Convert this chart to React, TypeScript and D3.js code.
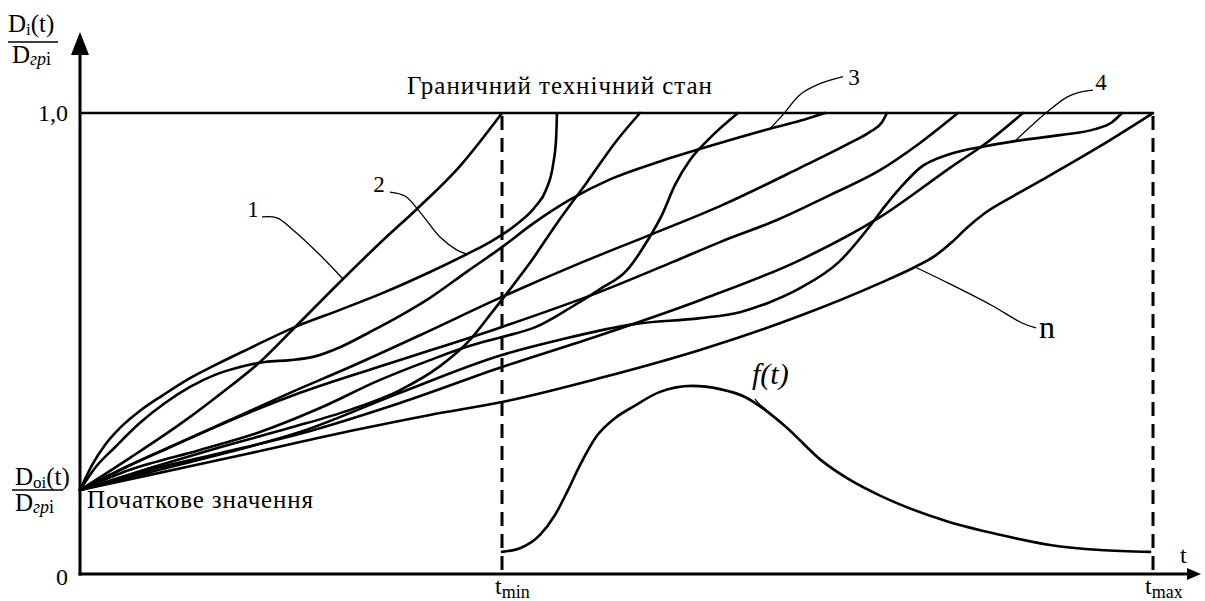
import React from "react";
import * as d3 from "d3";

const WIDTH = 1205;
const HEIGHT = 601;

// Relative operating time t (arbitrary units) and the ratio D_i(t)/D_гр i in percent
const T_END = 1075;
const T_MIN = 422;
const T_MAX = 1073;
const D_LIMIT = 100;

const curve1T = [0, 50, 100, 140, 180, 213, 263, 300, 338, 380, 422];
const curve1D = [18.2, 25.2, 32.5, 39.0, 46.0, 53.1, 64.0, 71.8, 79.4, 88.5, 100];

const curve2T = [0, 12, 25, 40, 60, 83, 110, 133, 170, 213, 260, 300, 350, 387, 410, 437, 455, 466, 473, 476, 477];
const curve2D = [18.2, 23.6, 28.0, 31.7, 35.4, 38.8, 42.5, 45.1, 49.0, 53.4, 57.3, 60.7, 65.5, 69.4, 72.0, 75.9, 79.6, 83.3, 88.7, 94.1, 100];

const curve3T = [0, 15, 35, 60, 85, 110, 135, 160, 185, 210, 233, 260, 290, 320, 350, 387, 422, 453, 490, 530, 580, 640, 690, 720, 745];
const curve3D = [18.2, 23.0, 27.5, 32.8, 37.1, 40.6, 43.2, 44.9, 46.0, 46.4, 47.1, 49.2, 52.5, 56.0, 59.9, 65.6, 70.9, 76.0, 81.2, 85.6, 89.5, 93.5, 96.6, 98.3, 100];

const curve4T = [0, 70, 150, 220, 320, 422, 480, 554, 620, 660, 688, 720, 759, 790, 805, 820, 840, 870, 905, 935, 980, 1015, 1032, 1042];
const curve4D = [18.2, 22.1, 26.5, 30.8, 39.3, 47.5, 50.8, 54.2, 55.5, 56.8, 58.8, 62.0, 67.7, 75.5, 79.8, 83.7, 88.1, 91.1, 92.8, 93.9, 95.2, 96.5, 98.0, 100];

const curve5T = [0, 70, 140, 210, 270, 320, 360, 390, 410, 428, 450, 477, 507, 537, 560];
const curve5D = [18.2, 23.0, 27.5, 31.7, 35.6, 39.9, 45.1, 50.8, 56.2, 61.2, 67.5, 76.1, 85.0, 94.1, 100];

const curve6T = [0, 50, 120, 180, 240, 300, 350, 390, 422, 456, 490, 520, 547, 568, 582, 595, 610, 630, 658];
const curve6D = [18.2, 22.6, 26.9, 30.8, 36.0, 42.1, 46.4, 49.5, 51.4, 53.6, 57.7, 61.8, 65.9, 72.5, 77.9, 84.4, 89.8, 94.6, 100];

const curve7T = [0, 40, 90, 150, 210, 270, 340, 422, 503, 567, 640, 720, 770, 790, 802, 807];
const curve7D = [18.2, 22.6, 27.5, 33.4, 39.3, 44.9, 51.8, 60.1, 67.7, 73.3, 79.8, 88.1, 93.5, 95.9, 98.0, 100];

const curve8T = [0, 50, 110, 170, 220, 320, 422, 520, 593, 640, 697, 750, 800, 840, 878];
const curve8D = [18.2, 23.6, 29.5, 35.1, 39.3, 46.4, 53.6, 61.2, 67.7, 72.0, 76.8, 82.2, 87.6, 93.5, 100];

const curve9T = [0, 70, 140, 220, 320, 422, 520, 620, 720, 800, 870, 910, 943];
const curve9D = [18.2, 22.6, 26.2, 30.4, 37.1, 44.9, 51.8, 59.4, 68.1, 77.4, 88.1, 94.1, 100];

const curveNT = [0, 70, 170, 270, 350, 422, 520, 620, 720, 800, 835, 855, 872, 887, 905, 935, 967, 1020, 1073];
const curveND = [18.2, 21.5, 26.2, 31.0, 34.5, 37.3, 42.5, 48.6, 56.0, 63.1, 66.6, 69.0, 72.0, 75.1, 78.3, 82.2, 86.1, 92.8, 100];

// Distribution density of the time to reach the limit state
const densityT = [422, 440, 460, 475, 488, 500, 516, 535, 554, 580, 612, 640, 665, 685, 706, 741, 770, 799, 866, 920, 970, 1020, 1070];
const densityF = [4.8, 5.6, 8.5, 12.8, 18.2, 23.6, 29.7, 33.8, 36.4, 39.5, 40.8, 40.1, 38.4, 35.6, 31.9, 24.7, 20.4, 17.1, 11.5, 8.5, 6.3, 5.2, 4.8];

const FONT = "'Liberation Serif', 'Times New Roman', 'DejaVu Serif', serif";

type Pt = [number, number];
const zip = (ts: number[], ds: number[]): Pt[] => ts.map((t, i) => [t, ds[i]] as Pt);

function valueAt(ts: number[], ds: number[], t: number) {
  const i = Math.max(1, Math.min(ts.length - 1, d3.bisectLeft(ts, t)));
  const k = (t - ts[i - 1]) / (ts[i] - ts[i - 1]);
  return ds[i - 1] + k * (ds[i] - ds[i - 1]);
}

export default function App() {
  const x = d3.scaleLinear().domain([0, T_END]).range([80, 1155]);
  const y = d3.scaleLinear().domain([0, D_LIMIT]).range([574, 113]);

  const line = d3
    .line<Pt>()
    .x((d) => x(d[0]))
    .y((d) => y(d[1]))
    .curve(d3.curveMonotoneX);

  const leaderLine = d3.line<Pt>().curve(d3.curveCatmullRom.alpha(0.5));

  const series: [number[], number[]][] = [
    [curve1T, curve1D],
    [curve2T, curve2D],
    [curve3T, curve3D],
    [curve4T, curve4D],
    [curve5T, curve5D],
    [curve6T, curve6D],
    [curve7T, curve7D],
    [curve8T, curve8D],
    [curve9T, curve9D],
    [curveNT, curveND],
  ];

  const callouts = [
    { text: "1", ts: curve1T, ds: curve1D, t: 263, leader: [[-81, -62], [-66, -61], [-50, -49], [-23, -24], [0, 0]], dx: -90, dy: -62, anchor: "middle", size: 23, italic: false },
    { text: "2", ts: curve2T, ds: curve2D, t: 387, leader: [[-77, -62], [-62, -58], [-47, -42], [-27, -17], [-10, -4], [0, 0]], dx: -88, dy: -62, anchor: "middle", size: 23, italic: false },
    { text: "3", ts: curve3T, ds: curve3D, t: 690, leader: [[73, -52], [50, -45], [30, -34], [13, -14], [0, 0]], dx: 84, dy: -44, anchor: "middle", size: 23, italic: false },
    { text: "4", ts: curve4T, ds: curve4D, t: 935, leader: [[78, -51], [65, -49], [52, -44], [32, -29], [0, 0]], dx: 86, dy: -51, anchor: "middle", size: 23, italic: false },
    { text: "n", ts: curveNT, ds: curveND, t: 835, leader: [[0, 0], [31, 15], [76, 38], [107, 56], [121, 61]], dx: 124, dy: 71, anchor: "start", size: 32, italic: false },
    { text: "f(t)", ts: densityT, ds: densityF, t: 691, leader: [[0, 0], [-6, -6], [-12, -11], [-16, -16]], dx: -19, dy: -31, anchor: "start", size: 30, italic: true },
  ];

  const x0 = x(0);
  const y0 = y(0);
  const yTop = y(D_LIMIT);

  return (
    <svg
      width={WIDTH}
      height={HEIGHT}
      viewBox={`0 0 ${WIDTH} ${HEIGHT}`}
      style={{ position: "absolute", left: 0, top: 0, background: "#fff" }}
      fontFamily={FONT}
    >
      <rect width={WIDTH} height={HEIGHT} fill="#fff" />

      {/* limit level D/Dгр = 1,0 */}
      <line x1={x0} x2={x(T_MAX)} y1={yTop} y2={yTop} stroke="#000" strokeWidth={2.6} />

      {/* t_min and t_max markers */}
      {[T_MIN, T_MAX].map((t) => (
        <line key={t} x1={x(t)} x2={x(t)} y1={yTop + 3} y2={y0} stroke="#000" strokeWidth={3} strokeDasharray="14 8" />
      ))}

      {/* degradation trajectories */}
      {series.map(([ts, ds], i) => (
        <path key={i} d={line(zip(ts, ds)) ?? ""} fill="none" stroke="#000" strokeWidth={2.6} strokeLinejoin="round" strokeLinecap="round" />
      ))}

      {/* density f(t) */}
      <path d={line(zip(densityT, densityF)) ?? ""} fill="none" stroke="#000" strokeWidth={2.6} strokeLinecap="round" />

      {/* axes */}
      <line x1={x0} x2={x0} y1={y0 + 1.5} y2={50} stroke="#000" strokeWidth={3} />
      <polygon points={`${x0},32 ${x0 - 9},55 ${x0 + 9},55`} fill="#000" />
      <line x1={x0 - 1.5} x2={1190} y1={y0} y2={y0} stroke="#000" strokeWidth={3} />
      <polygon points={`1201,${y0} 1187,${y0 - 6} 1187,${y0 + 6}`} fill="#000" />

      {/* callouts */}
      {callouts.map((c) => {
        const ax = x(c.t);
        const ay = y(valueAt(c.ts, c.ds, c.t));
        const pts = c.leader.map(([dx, dy]) => [ax + dx, ay + dy] as Pt);
        return (
          <g key={c.text}>
            <path d={leaderLine(pts) ?? ""} fill="none" stroke="#000" strokeWidth={1.3} />
            <text x={ax + c.dx} y={ay + c.dy} fontSize={c.size} textAnchor={c.anchor} fontStyle={c.italic ? "italic" : "normal"}>
              {c.text}
            </text>
          </g>
        );
      })}

      {/* axis labels */}
      <text x={68} y={yTop + 8} fontSize={24} textAnchor="end">1,0</text>
      <text x={68} y={y0 + 11} fontSize={24} textAnchor="end">0</text>
      <text x={1180} y={563} fontSize={24}>t</text>
      <text x={x(T_MIN) - 7} y={y0 + 20} fontSize={24}>
        t<tspan fontSize={18} dy={4}>min</tspan>
      </text>
      <text x={x(T_MAX) - 8} y={y0 + 20} fontSize={24}>
        t<tspan fontSize={18} dy={4}>max</tspan>
      </text>

      <text x={407} y={94} fontSize={25} textLength={305} lengthAdjust="spacing">Граничний технічний стан</text>
      <text x={87} y={508} fontSize={25} textLength={226} lengthAdjust="spacing">Початкове значення</text>

      {/* y-axis ratio D_i(t)/D_гр i */}
      <text x={8} y={32} fontSize={25}>
        D<tspan fontSize={17} dy={3}>i</tspan>
        <tspan dy={-3}>(t)</tspan>
      </text>
      <line x1={8} x2={58} y1={42} y2={42} stroke="#000" strokeWidth={1.5} />
      <text x={12} y={63} fontSize={25}>
        D<tspan fontSize={18} dy={2} fontStyle="italic">гр</tspan>
        <tspan fontSize={18}>i</tspan>
      </text>

      {/* initial value D_oi(t)/D_гр i */}
      <text x={15} y={485} fontSize={25}>
        D<tspan fontSize={17} dy={3}>oi</tspan>
        <tspan dy={-3}>(t)</tspan>
      </text>
      <line x1={12} x2={63} y1={490} y2={490} stroke="#000" strokeWidth={1.5} />
      <text x={15} y={511} fontSize={25}>
        D<tspan fontSize={18} dy={2} fontStyle="italic">гр</tspan>
        <tspan fontSize={18}>i</tspan>
      </text>
    </svg>
  );
}
